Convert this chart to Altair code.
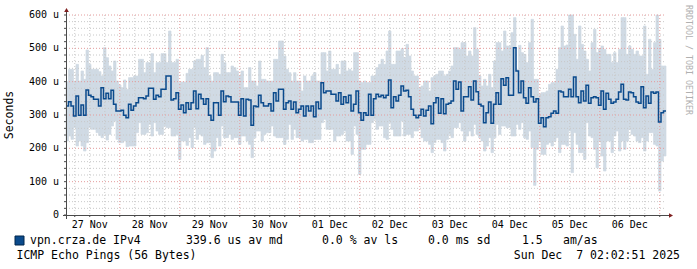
import altair as alt
import pandas as pd

# ---------------- data ----------------
day_labels = ["27 Nov", "28 Nov", "29 Nov", "30 Nov", "01 Dec",
              "02 Dec", "03 Dec", "04 Dec", "05 Dec", "06 Dec"]
day_label_hours = [12, 36, 60, 84, 108, 132, 156, 180, 204, 228]   # noon of each day (hours since 27 Nov 00:00)

start_hour = 2.5      # first bin start, hours since 27 Nov 00:00
bin_hours = 1.0       # consolidation step (1 h)

median = [
    327, 340, 327, 297, 357, 299, 330, 299, 375, 359, 355, 347, 347, 327, 382, 349, 365, 349, 374, 332,
    312, 312, 314, 299, 292, 332, 314, 327, 337, 352, 352, 349, 357, 380, 380, 347, 359, 355, 377, 377,
    417, 417, 345, 349, 367, 317, 330, 307, 337, 317, 337, 372, 319, 362, 349, 332, 349, 299, 284, 337,
    337, 299, 372, 340, 357, 355, 339, 339, 339, 299, 349, 297, 347, 345, 269, 327, 325, 359, 337, 327,
    327, 334, 312, 367, 342, 377, 377, 317, 337, 342, 317, 339, 307, 317, 327, 297, 327, 312, 327, 295,
    339, 319, 397, 367, 372, 372, 362, 362, 342, 367, 332, 355, 337, 359, 312, 332, 372, 307, 284, 307,
    299, 362, 299, 349, 362, 355, 359, 352, 359, 405, 322, 355, 342, 359, 387, 372, 374, 355, 317, 299,
    292, 299, 317, 297, 314, 327, 274, 337, 352, 305, 349, 304, 332, 335, 342, 402, 377, 399, 312, 355,
    355, 385, 345, 402, 370, 332, 327, 277, 307, 339, 275, 332, 367, 332, 409, 389, 412, 359, 359, 502,
    432, 367, 402, 352, 335, 382, 355, 339, 349, 275, 292, 265, 292, 295, 305, 312, 305, 372, 369, 355,
    355, 377, 355, 414, 355, 337, 372, 342, 389, 335, 352, 355, 352, 329, 372, 317, 365, 347, 335, 339,
    347, 369, 392, 347, 345, 369, 367, 355, 339, 335, 385, 322, 357, 335, 369, 365, 369, 279, 307, 312,
]

smoke_top = [
    400, 437, 437, 402, 452, 402, 432, 407, 495, 452, 437, 437, 437, 430, 417, 502, 472, 447, 432, 462,
    402, 390, 382, 405, 377, 412, 412, 417, 417, 467, 467, 427, 457, 457, 484, 427, 457, 457, 484, 484,
    457, 552, 457, 457, 467, 397, 399, 399, 425, 437, 437, 462, 467, 467, 479, 442, 502, 417, 402, 427,
    427, 422, 482, 457, 427, 427, 447, 442, 432, 417, 432, 382, 382, 442, 402, 402, 387, 462, 407, 407,
    402, 402, 402, 467, 467, 522, 522, 477, 437, 427, 402, 427, 402, 402, 372, 417, 402, 402, 417, 427,
    402, 402, 487, 487, 432, 492, 437, 437, 452, 422, 462, 462, 432, 437, 432, 487, 487, 402, 397, 402,
    397, 397, 417, 417, 442, 452, 467, 452, 492, 552, 452, 452, 492, 492, 499, 472, 512, 477, 432, 417,
    417, 382, 387, 402, 402, 372, 412, 417, 422, 432, 432, 417, 422, 432, 447, 502, 502, 497, 517, 517,
    477, 492, 477, 562, 497, 417, 387, 407, 387, 422, 382, 462, 517, 517, 492, 552, 507, 507, 547, 592,
    437, 509, 487, 482, 457, 517, 587, 407, 407, 362, 367, 367, 372, 392, 397, 397, 437, 502, 567, 507,
    510, 600, 600, 542, 467, 567, 512, 492, 467, 432, 517, 557, 487, 499, 507, 497, 482, 482, 457, 487,
    457, 497, 592, 592, 482, 507, 497, 482, 492, 477, 477, 567, 422, 527, 437, 517, 600, 527, 447, 447,
]

smoke_bottom = [
    222, 237, 227, 262, 207, 222, 207, 192, 217, 262, 257, 257, 247, 239, 232, 242, 225, 242, 267, 282,
    227, 217, 217, 222, 205, 207, 207, 207, 247, 277, 242, 242, 247, 272, 237, 277, 252, 242, 242, 267,
    262, 262, 237, 237, 242, 167, 222, 222, 209, 232, 202, 262, 227, 242, 237, 212, 217, 217, 172, 192,
    232, 207, 267, 232, 232, 242, 227, 232, 232, 212, 237, 237, 222, 212, 172, 232, 252, 252, 222, 242,
    247, 247, 267, 237, 232, 232, 232, 212, 227, 272, 227, 257, 232, 232, 222, 227, 227, 217, 217, 227,
    227, 227, 277, 287, 257, 257, 257, 222, 237, 237, 242, 252, 222, 222, 182, 267, 242, 122, 197, 197,
    212, 212, 277, 287, 257, 267, 267, 232, 227, 277, 257, 237, 237, 237, 282, 237, 242, 242, 232, 252,
    252, 262, 232, 222, 222, 212, 187, 217, 227, 227, 217, 192, 227, 242, 232, 262, 262, 277, 252, 222,
    237, 252, 237, 272, 242, 232, 222, 192, 207, 232, 187, 232, 272, 242, 267, 267, 262, 262, 237, 237,
    272, 257, 277, 232, 227, 252, 202, 89, 197, 222, 182, 182, 212, 217, 207, 222, 232, 187, 212, 212,
    207, 252, 127, 247, 212, 187, 187, 167, 277, 237, 232, 197, 142, 222, 177, 132, 222, 222, 187, 237,
    252, 192, 222, 197, 222, 257, 242, 237, 222, 217, 232, 192, 222, 247, 247, 212, 207, 72, 162, 177,
]

y_ticks = [0, 100, 200, 300, 400, 500, 600]
y_tick_labels = ["0", "100 u", "200 u", "300 u", "400 u", "500 u", "600 u"]

legend_name = "vpn.crza.de IPv4"
legend_stats = ["339.6 us av md", "0.0 % av ls", "0.0 ms sd", "1.5", "am/as"]
footer_left = "ICMP Echo Pings (56 Bytes)"
footer_right = "Sun Dec\u00a0 7 02:02:51 2025"
watermark = "RRDTOOL / TOBI OETIKER"
y_title = "Seconds"

# ---------------- styling ----------------
W, H = 600, 200
MONO = "DejaVu Sans Mono"
SMOKE = "#d0dae4"
MEDIAN = "#0a4a8c"
MGRID = "#e49c9c"
GRID = "#c8c8c8"
AXIS = "#4a4a4a"
ARROW = "#7f1f1f"

n_s = min(len(smoke_top), len(smoke_bottom))
smoke_df = pd.DataFrame({
    "t0": [start_hour + bin_hours * i for i in range(n_s)],
    "t1": [start_hour + bin_hours * (i + 1) for i in range(n_s)],
    "top": smoke_top[:n_s],
    "bot": smoke_bottom[:n_s],
})
n_m = len(median)
line_df = pd.DataFrame({
    "t": [start_hour + bin_hours * i for i in range(n_m + 1)],
    "med": median + [median[-1]],
    "o": list(range(n_m + 1)),
})

end_hour = start_hour + 240.0
x_scale = alt.Scale(domain=[start_hour, end_hour], nice=False, zero=False)
y_scale = alt.Scale(domain=[0, 600], nice=False, zero=True)

X = lambda f: alt.X(f, type="quantitative", scale=x_scale, axis=None)
Y = lambda f: alt.Y(f, type="quantitative", scale=y_scale, axis=None)

minor_y = [v for v in range(20, 600, 20) if v % 100 != 0]
major_y = [v for v in range(100, 601, 100)]
minor_x = [h for h in range(6, int(end_hour) + 1, 6) if h % 24 != 0 and h > start_hour]
major_x = [h for h in range(24, int(end_hour) + 1, 24)]

# stroke in the fill colour closes the anti-aliasing seams between bins
smoke = alt.Chart(smoke_df).mark_rect(color=SMOKE, stroke=SMOKE, strokeWidth=0.7).encode(
    x=X("t0"), x2="t1", y=Y("bot"), y2="top")

grid_h_minor = alt.Chart(pd.DataFrame({"v": minor_y})).mark_rule(
    color=GRID, strokeDash=[1, 2], strokeWidth=1).encode(
    y=Y("v"), x=alt.value(0), x2=alt.value(W))
grid_v_minor = alt.Chart(pd.DataFrame({"h": minor_x})).mark_rule(
    color=GRID, strokeDash=[1, 2], strokeWidth=1).encode(
    x=X("h"), y=alt.value(0), y2=alt.value(H))
grid_h_major = alt.Chart(pd.DataFrame({"v": major_y})).mark_rule(
    color=MGRID, strokeDash=[1, 2], strokeWidth=1).encode(
    y=Y("v"), x=alt.value(0), x2=alt.value(W))
grid_v_major = alt.Chart(pd.DataFrame({"h": major_x})).mark_rule(
    color=MGRID, strokeDash=[1, 2], strokeWidth=1).encode(
    x=X("h"), y=alt.value(0), y2=alt.value(H))

med_line = alt.Chart(line_df).mark_line(
    color=MEDIAN, strokeWidth=1.5, interpolate="step-after").encode(
    x=X("t"), y=Y("med"), order="o:Q")

# axes
axis_y = alt.Chart(pd.DataFrame({"a": [0]})).mark_rule(color=AXIS, strokeWidth=1).encode(
    x=alt.value(0.5), y=alt.value(-4), y2=alt.value(H + 4))
axis_x = alt.Chart(pd.DataFrame({"a": [0]})).mark_rule(color=AXIS, strokeWidth=1).encode(
    y=alt.value(H + 0.5), x=alt.value(-3), x2=alt.value(W + 3))
ticks_y = alt.Chart(pd.DataFrame({"v": minor_y + major_y + [0]})).mark_rule(
    color=AXIS, strokeWidth=1).encode(y=Y("v"), x=alt.value(-2), x2=alt.value(0))
ticks_x = alt.Chart(pd.DataFrame({"h": minor_x + major_x})).mark_rule(
    color=AXIS, strokeWidth=1).encode(x=X("h"), y=alt.value(H), y2=alt.value(H + 2))
arrow_up = alt.Chart(pd.DataFrame({"a": [0]})).mark_point(
    shape="triangle-up", filled=True, size=22, color=ARROW, opacity=1).encode(
    x=alt.value(0.5), y=alt.value(-5))
arrow_right = alt.Chart(pd.DataFrame({"a": [0]})).mark_point(
    shape="triangle-right", filled=True, size=22, color=ARROW, opacity=1).encode(
    x=alt.value(W + 5), y=alt.value(H + 0.5))

# labels
y_labels = alt.Chart(pd.DataFrame({"v": y_ticks, "l": y_tick_labels})).mark_text(
    font=MONO, fontSize=10, align="right", baseline="middle", color="#000").encode(
    y=Y("v"), x=alt.value(-7), text="l:N")
x_labels = alt.Chart(pd.DataFrame({"h": day_label_hours, "l": day_labels})).mark_text(
    font=MONO, fontSize=10, align="center", baseline="middle", color="#000").encode(
    x=X("h"), y=alt.value(H + 9.5), text="l:N")
title_y = alt.Chart(pd.DataFrame({"l": [y_title]})).mark_text(
    font=MONO, fontSize=11.5, angle=270, align="center", baseline="middle", color="#000").encode(
    x=alt.value(-56), y=alt.value(100), text="l:N")
wm = alt.Chart(pd.DataFrame({"l": [watermark]})).mark_text(
    font=MONO, fontSize=8.3, angle=90, align="center", baseline="middle", color="#b0b0b0").encode(
    x=alt.value(621.5), y=alt.value(45), text="l:N")

legend_box = alt.Chart(pd.DataFrame({"a": [0]})).mark_rect(
    color=MEDIAN, stroke="#00264d", strokeWidth=1).encode(
    x=alt.value(-51), x2=alt.value(-42), y=alt.value(221), y2=alt.value(230))

legend_x = [-36, 120, 256, 362, 456, 497]
legend_texts = [legend_name] + legend_stats
legend_txt = alt.Chart(pd.DataFrame({"l": legend_texts, "px": legend_x})).mark_text(
    font=MONO, fontSize=11.5, align="left", baseline="middle", color="#000").encode(
    x=alt.X("px:Q", scale=None), y=alt.value(226), text="l:N")
foot_l = alt.Chart(pd.DataFrame({"l": [footer_left]})).mark_text(
    font=MONO, fontSize=11.5, align="left", baseline="middle", color="#000").encode(
    x=alt.value(-49.5), y=alt.value(241), text="l:N")
foot_r = alt.Chart(pd.DataFrame({"l": [footer_right]})).mark_text(
    font=MONO, fontSize=11.5, align="right", baseline="middle", color="#000").encode(
    x=alt.value(614), y=alt.value(241), text="l:N")

chart = alt.layer(
    smoke, grid_h_minor, grid_v_minor, grid_h_major, grid_v_major, med_line,
    axis_y, axis_x, ticks_y, ticks_x, arrow_up, arrow_right,
    y_labels, x_labels, title_y, wm, legend_box, legend_txt, foot_l, foot_r,
).properties(
    width=W, height=H,
    padding={"left": 66, "top": 15, "right": 31, "bottom": 54},
    autosize=alt.AutoSizeParams(type="none"),
    background="white",
).configure_view(stroke=None)

chart.save("out.html", embed_options={"renderer": "svg", "actions": False})
